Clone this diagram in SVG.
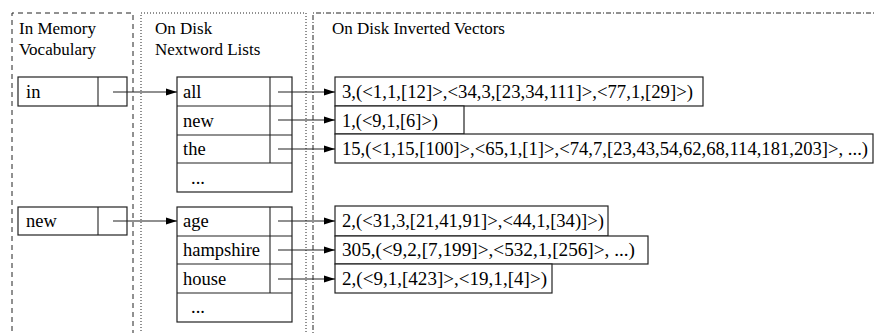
<svg xmlns="http://www.w3.org/2000/svg" width="875" height="333" viewBox="0 0 875 333">
<defs>
<marker id="ah" markerWidth="11" markerHeight="8" refX="11" refY="4" orient="auto" markerUnits="userSpaceOnUse">
<path d="M0,0.5 L11,4 L0,7.5 Z" fill="#000"/>
</marker>
</defs>
<style>
text{font-family:"Liberation Serif","Times New Roman",serif;font-size:17px;fill:#000}
.v{font-size:18px}
.c{font-size:18.5px}
.box{fill:#fff;stroke:#222;stroke-width:1.2}
.ln{stroke:#222;stroke-width:1.1;fill:none}
.p1{stroke:#222;stroke-width:1;fill:none;stroke-dasharray:5,4}
.p2{stroke:#222;stroke-width:1;fill:none;stroke-dasharray:1,2}
.p3{stroke:#222;stroke-width:1;fill:none;stroke-dasharray:5,2,1,2}
.arr{stroke:#222;stroke-width:1.1;fill:none;marker-end:url(#ah)}
</style>
<g id="panels">
<path class="p1" d="M12,340 V13 H133 V340"/>
<path class="p2" d="M141,340 V13 H306 V340"/>
<path class="p3" d="M313,340 V13 H880"/>
<text x="19" y="34">In Memory</text>
<text x="19" y="55">Vocabulary</text>
<text x="155" y="34">On Disk</text>
<text x="155" y="55">Nextword Lists</text>
<text x="332" y="34">On Disk Inverted Vectors</text>
</g>
<g id="vocab-in">
<rect class="box" x="18" y="77" width="109" height="29"/>
<line class="ln" x1="98" y1="77" x2="98" y2="106"/>
<text class="c" x="26" y="98">in</text>
</g>
<g id="vocab-new">
<rect class="box" x="18" y="207" width="109" height="28"/>
<line class="ln" x1="98" y1="207" x2="98" y2="235"/>
<text class="c" x="26" y="227">new</text>
</g>
<g id="nw-in">
<rect class="box" x="177" y="77" width="115" height="115"/>
<line class="ln" x1="177" y1="106" x2="292" y2="106"/>
<line class="ln" x1="177" y1="135" x2="292" y2="135"/>
<line class="ln" x1="177" y1="163" x2="292" y2="163"/>
<line class="ln" x1="270" y1="77" x2="270" y2="163"/>
<text class="c" x="183" y="98">all</text>
<text class="c" x="183" y="127">new</text>
<text class="c" x="183" y="155">the</text>
<text class="c" x="191" y="184">...</text>
</g>
<g id="nw-new">
<rect class="box" x="177" y="207" width="115" height="115"/>
<line class="ln" x1="177" y1="236" x2="292" y2="236"/>
<line class="ln" x1="177" y1="264" x2="292" y2="264"/>
<line class="ln" x1="177" y1="293" x2="292" y2="293"/>
<line class="ln" x1="270" y1="207" x2="270" y2="293"/>
<text class="c" x="183" y="227">age</text>
<text class="c" x="183" y="256">hampshire</text>
<text class="c" x="183" y="285">house</text>
<text class="c" x="191" y="313">...</text>
</g>
<g id="iv-all">
<rect class="box" x="335" y="77" width="368" height="29"/>
<text class="v" x="342" y="98" textLength="351" lengthAdjust="spacingAndGlyphs">3,(&lt;1,1,[12]&gt;,&lt;34,3,[23,34,111]&gt;,&lt;77,1,[29]&gt;)</text>
</g>
<g id="iv-new">
<rect class="box" x="335" y="106" width="129" height="28"/>
<text class="v" x="342" y="127" textLength="96" lengthAdjust="spacingAndGlyphs">1,(&lt;9,1,[6]&gt;)</text>
</g>
<g id="iv-the">
<rect class="box" x="335" y="134" width="538" height="29"/>
<text class="v" x="342" y="155" textLength="526" lengthAdjust="spacingAndGlyphs">15,(&lt;1,15,[100]&gt;,&lt;65,1,[1]&gt;,&lt;74,7,[23,43,54,62,68,114,181,203]&gt;, ...)</text>
</g>
<g id="iv-age">
<rect class="box" x="335" y="206" width="273" height="30"/>
<text class="v" x="342" y="227" textLength="262" lengthAdjust="spacingAndGlyphs">2,(&lt;31,3,[21,41,91]&gt;,&lt;44,1,[34)]&gt;)</text>
</g>
<g id="iv-hampshire">
<rect class="box" x="335" y="236" width="313" height="28"/>
<text class="v" x="342" y="256" textLength="293" lengthAdjust="spacingAndGlyphs">305,(&lt;9,2,[7,199]&gt;,&lt;532,1,[256]&gt;, ...)</text>
</g>
<g id="iv-house">
<rect class="box" x="335" y="264" width="217" height="29"/>
<text class="v" x="342" y="285" textLength="205" lengthAdjust="spacingAndGlyphs">2,(&lt;9,1,[423]&gt;,&lt;19,1,[4]&gt;)</text>
</g>
<g id="connectors">
<line class="arr" x1="113" y1="92" x2="177" y2="92"/>
<line class="arr" x1="113" y1="221" x2="177" y2="221"/>
<line class="arr" x1="278" y1="92" x2="335" y2="92"/>
<line class="arr" x1="278" y1="120" x2="335" y2="120"/>
<line class="arr" x1="278" y1="149" x2="335" y2="149"/>
<line class="arr" x1="278" y1="221" x2="335" y2="221"/>
<line class="arr" x1="278" y1="250" x2="335" y2="250"/>
<line class="arr" x1="278" y1="279" x2="335" y2="279"/>
</g>
</svg>
